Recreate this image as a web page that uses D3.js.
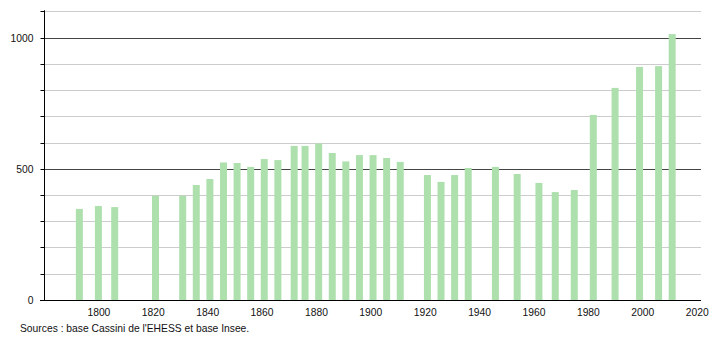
<!DOCTYPE html>
<html>
<head>
<meta charset="utf-8">
<script src="https://cdn.jsdelivr.net/npm/d3@7"></script>
<style>
    body { margin: 0; background: #fff; }
    text { font-family: "Liberation Sans", Arial, sans-serif; }
</style>
</head>
<body>
<div id="chart"></div>
<script>
// census years and population
const years = [1793, 1800, 1806, 1821, 1831, 1836, 1841, 1846, 1851, 1856, 1861, 1866,
    1872, 1876, 1881, 1886, 1891, 1896, 1901, 1906, 1911, 1921, 1926, 1931, 1936,
    1946, 1954, 1962, 1968, 1975, 1982, 1990, 1999, 2006, 2011];
const population = [347, 358, 354, 397, 397, 438, 461, 524, 522, 507, 537, 533,
    587, 587, 596, 560, 528, 552, 552, 541, 526, 476, 450, 476, 503,
    507, 480, 446, 411, 419, 705, 808, 888, 891, 1013];
const xTicks = [1800, 1820, 1840, 1860, 1880, 1900, 1920, 1940, 1960, 1980, 2000, 2020];
const yLabels = [0, 500, 1000];
const yGrid = [100, 200, 300, 400, 500, 600, 700, 800, 900, 1000, 1100];
const source = "Sources : base Cassini de l'EHESS et base Insee.";

const width = 710, height = 340;
const plotLeft = 44, plotRight = 701, plotTop = 11.25, plotBottom = 300;
const barWidth = 7;
const fontSize = "10.3px";

let svg = d3.select("#chart")
    .append("svg")
    .attr("width", width)
    .attr("height", height);

let x = d3.scaleLinear().domain([1780, 2021.6]).range([plotLeft, plotRight]);
let y = d3.scaleLinear().domain([0, 1100]).range([plotBottom, plotTop]);

// grid
svg.selectAll(".grid")
    .data(yGrid)
    .join("line")
    .classed("grid", true)
    .attr("x1", plotLeft)
    .attr("x2", plotRight)
    .attr("y1", d => Math.round(y(d)) + 0.5)
    .attr("y2", d => Math.round(y(d)) + 0.5)
    .style("stroke", d => d % 500 === 0 ? "#444" : "#ccc")
    .style("stroke-width", "1px");

// bars
svg.selectAll(".bar")
    .data(years)
    .join("rect")
    .classed("bar", true)
    .attr("x", d => x(d) - barWidth / 2)
    .attr("y", (d, i) => y(population[i]))
    .attr("width", barWidth)
    .attr("height", (d, i) => plotBottom - y(population[i]))
    .style("fill", "#aee0ae");

// y axis
let yAxis = d3.axisLeft(y)
    .tickValues(yGrid.concat([0]))
    .tickSize(4)
    .tickFormat(d => yLabels.includes(d) ? d : "");
let gy = svg.append("g")
    .attr("transform", `translate(${plotLeft + 0.5},0)`)
    .call(yAxis);
gy.select(".domain").attr("d", `M0,${plotTop - 1}V${plotBottom}`).style("stroke", "#000");
gy.selectAll(".tick").attr("transform", d => `translate(0,${Math.round(y(d)) + 0.5})`);
gy.selectAll(".tick line").style("stroke", "#000");
gy.selectAll(".tick text")
    .attr("x", -11)
    .attr("font-size", fontSize)
    .attr("font-family", "Liberation Sans, Arial, sans-serif")
    .attr("fill", "#111");

// x axis
let xAxis = d3.axisBottom(x)
    .tickValues(xTicks)
    .tickSize(0)
    .tickFormat(d3.format("d"));
let gx = svg.append("g")
    .attr("transform", `translate(0,${plotBottom + 0.5})`)
    .call(xAxis);
gx.select(".domain").attr("d", `M${plotLeft - 4},0H${plotRight}`).style("stroke", "#000");
gx.selectAll(".tick text")
    .attr("y", 8)
    .attr("font-size", fontSize)
    .attr("font-family", "Liberation Sans, Arial, sans-serif")
    .attr("fill", "#111");

// source line
svg.append("text")
    .attr("x", 20)
    .attr("y", 332)
    .text(source)
    .attr("font-size", fontSize)
    .attr("fill", "#111");
</script>
</body>
</html>
